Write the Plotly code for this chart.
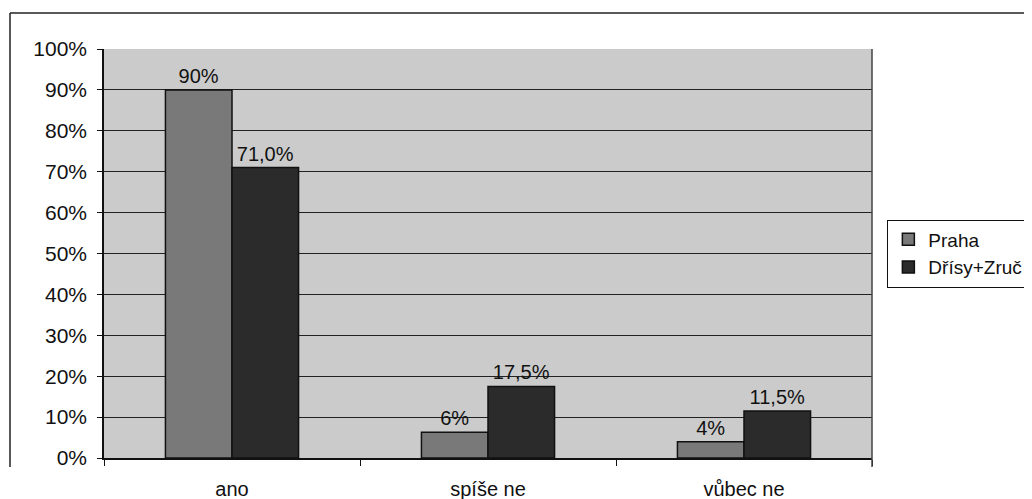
import plotly.graph_objects as go

categories = ["ano", "spíše ne", "vůbec ne"]
praha = [90, 6.3, 4]
drisy = [71, 17.5, 11.5]
praha_labels = ["90%", "6%", "4%"]
drisy_labels = ["71,0%", "17,5%", "11,5%"]
y_ticks = [0, 10, 20, 30, 40, 50, 60, 70, 80, 90, 100]
y_tick_text = [f"{v}%" for v in y_ticks]

FONT = "Liberation Sans, Arial, sans-serif"

fig = go.Figure()
fig.add_trace(go.Bar(
    name="Praha", x=categories, y=praha, text=praha_labels,
    textposition="outside", marker=dict(color="#797979", line=dict(color="#111111", width=1.5)),
    textfont=dict(size=20, color="#111111", family=FONT), cliponaxis=False,
))
fig.add_trace(go.Bar(
    name="Dřísy+Zruč", x=categories, y=drisy, text=drisy_labels,
    textposition="outside", marker=dict(color="#2b2b2b", line=dict(color="#111111", width=1.5)),
    textfont=dict(size=20, color="#111111", family=FONT), cliponaxis=False,
))

fig.update_layout(
    width=1024, height=491,
    margin=dict(l=96, r=160, t=41, b=41, autoexpand=False),
    paper_bgcolor="white", plot_bgcolor="#cbcbcb",
    barmode="group", bargap=0.48, bargroupgap=0,
    font=dict(family=FONT, color="#111111", size=20),
    showlegend=True,
    legend=dict(
        x=1.02, y=0.5, xanchor="left", yanchor="middle",
        bgcolor="white", bordercolor="#111111", borderwidth=1,
        font=dict(size=19, family=FONT, color="#111111"),
        itemwidth=30, tracegroupgap=2,
    ),
)
fig.update_xaxes(
    type="category", showgrid=False, showline=True, linecolor="#111111", linewidth=1.5,
    ticks="outside", tickson="boundaries", ticklen=6, tickcolor="#111111",
    tickfont=dict(size=20, family=FONT, color="#111111"), ticklabelstandoff=12,
    automargin=False,
)
fig.update_yaxes(
    range=[0, 100], tickvals=y_ticks, ticktext=y_tick_text,
    showgrid=True, gridcolor="#222222", gridwidth=1,
    showline=True, linecolor="#111111", linewidth=1.5,
    ticks="outside", ticklen=5, tickcolor="#111111",
    tickfont=dict(size=21, family=FONT, color="#111111"), ticklabelstandoff=6,
    zeroline=False, automargin=False,
)
# plot-area right border and outer chart frame (top & left edges)
fig.add_shape(type="line", xref="paper", yref="paper", x0=1, x1=1, y0=-0.022, y1=1,
              line=dict(color="#444444", width=1.5))
fig.add_shape(type="line", xref="paper", yref="paper", x0=-0.1224, x1=1.21, y0=1.088, y1=1.088,
              line=dict(color="#222222", width=1.5))
fig.add_shape(type="line", xref="paper", yref="paper", x0=-0.1224, x1=-0.1224, y0=-0.022, y1=1.088,
              line=dict(color="#222222", width=1.5))

fig.write_html("out.html")
